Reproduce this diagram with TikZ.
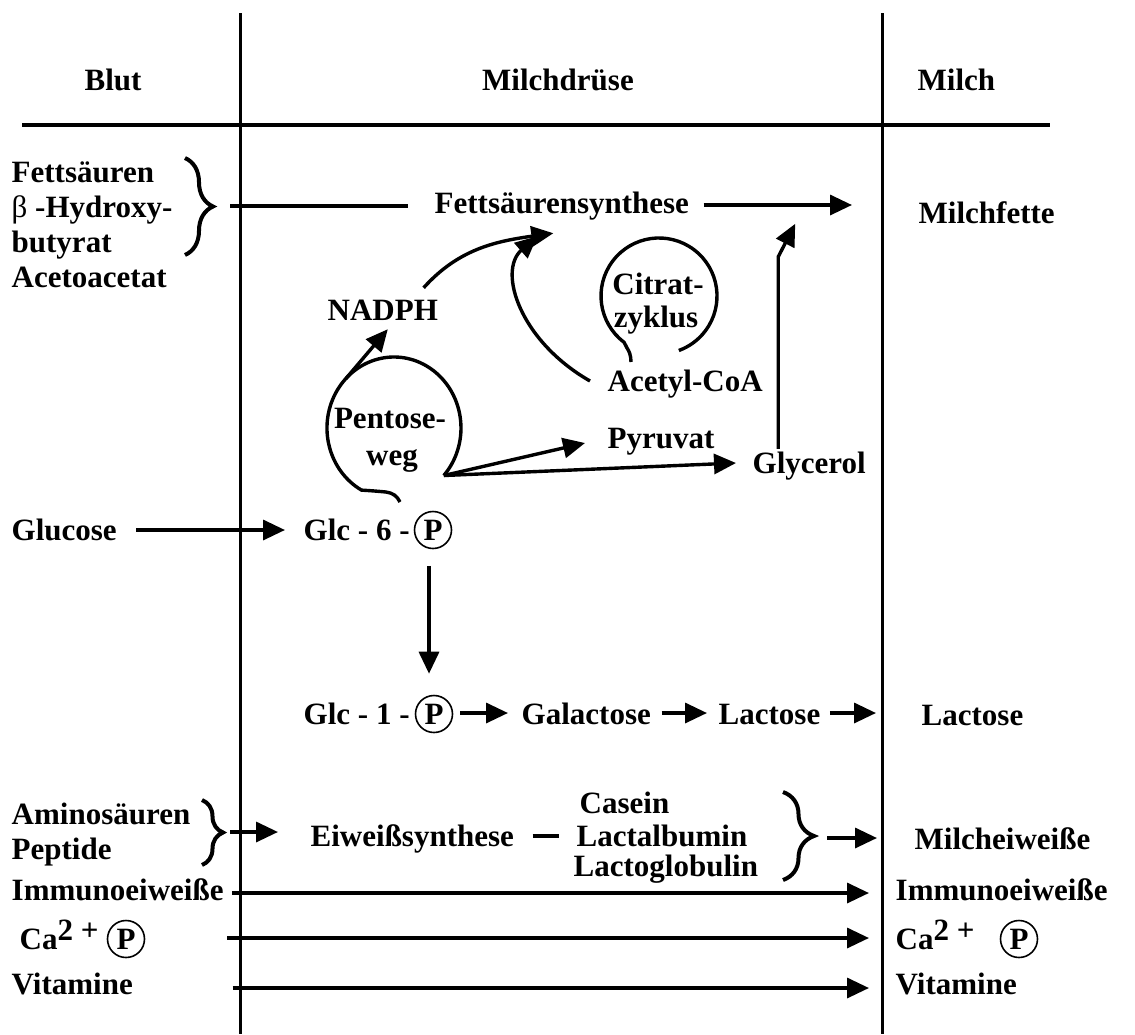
\documentclass[tikz,border=0pt]{standalone}
\usepackage{fontspec}
\setmainfont{Liberation Serif}
\usetikzlibrary{arrows.meta,decorations.pathreplacing}

\begin{document}
\begin{tikzpicture}[x=0.5pt, y=-0.5pt, line width=1.7pt,
  txt/.style={font=\fontsize{15.5}{18}\selectfont\bfseries, inner sep=0pt, text height=10.5pt, text depth=0pt},
  lbl/.style={txt, anchor=west},
  pc/.style={txt, circle, draw, line width=0.8pt, minimum size=18.5pt},
  arr/.style={-{Triangle[length=11pt,width=10pt]}},
  brc/.style={decorate, decoration={brace, amplitude=#1}, line width=2pt}]
	\useasboundingbox (0,0) rectangle (1135,1034);
	\coordinate (l1t) at (240,13); \coordinate (l1b) at (240,1034);
	\coordinate (l2t) at (882,13); \coordinate (l2b) at (882,1034);
	\coordinate (rl) at (22,125); \coordinate (rr) at (1050,125);
	\draw[line width=1.5pt] (l1t) -- (l1b);
	\draw[line width=1.5pt] (l2t) -- (l2b);
	\draw[line width=2pt] (rl) -- (rr);
	\node[txt] (blut) at (113,80) {Blut};
	\node[txt] (druese) at (558,80) {Milchdrüse};
	\node[lbl] (milch) at (916,80) {Milch};
	\node[lbl] (fsL) at (10,172) {Fettsäuren};
	\node[lbl] (hbL) at (10,207) {{\mdseries β} -Hydroxy-};
	\node[lbl] (butL) at (10,242) {butyrat};
	\node[lbl] (acL) at (10,277) {Acetoacetat};
	\coordinate (fb1) at (185,158); \coordinate (fb2) at (185,255); \coordinate (fbt) at (213,206);
	\draw[brc=14pt] (fb1) -- (fb2);
	\node[lbl] (fs) at (433,203) {Fettsäurensynthese};
	\node[lbl] (fette) at (917,213) {Milchfette};
	\draw (fbt) ++(17,0) -- ([shift={(-25,3)}]fs.west);
	\draw[arr] ([shift={(13,2)}]fs.east) -- ([shift={(-65,-8)}]fette.west);
	\node[lbl] (nadph) at (326,310) {NADPH};
	\node[txt] (citrat) at (658,284) {Citrat-};
	\node[txt] (zyklus) at (656,317) {zyklus};
	\node[lbl] (acetyl) at (606,381) {Acetyl-CoA};
	\node[txt] (pentose) at (390,418) {Pentose-};
	\node[txt] (weg) at (392,455) {weg};
	\node[lbl] (pyruvat) at (606,438) {Pyruvat};
	\node[lbl] (glycerol) at (751,463) {Glycerol};
	\coordinate (pentc) at (394,428);
	\draw (400,502) .. controls (397,496) and (393,493) .. (386,492) .. controls (375,491) .. (361.5,490.1)
	  arc[start angle=119, end angle=402, x radius=67, y radius=71];
	\draw (631,362) .. controls (631,355) and (629,351) .. (627,348) .. controls (625,345) .. (624.1,342.3)
	  arc[start angle=127, end angle=430, radius=58];
	\path (pentc) ++(42:67 and 71) coordinate (pentout);
	\path (pentc) ++(224:67 and 71) coordinate (pentnw);
	\draw[arr] (pentnw) -- ([shift={(5,7)}]nadph.south);
	\draw[arr] (pentout) -- ([shift={(-21,5)}]pyruvat.west);
	\draw[arr] (pentout) -- ([shift={(-15,0)}]glycerol.west);
	\draw[arr] ([shift={(-16,-10)}]nadph.north east) .. controls +(35,-39) and +(-57,8) .. ([shift={(-8.5,18)}]fs.south);
	\draw[arr] ([shift={(-16,0)}]acetyl.west) .. controls +(-70,-40) and +(-40,35) .. ([shift={(-24.5,21)}]fs.south);
	\draw[arr] ([shift={(-31,-2)}]glycerol.north) -- ++(0,-192) -- ++(17,-33);
	\node[lbl] (glucose) at (10,530) {Glucose};
	\node[lbl] (glc6) at (302,530) {Glc - 6 -};
	\node[pc] (p6) at (433,530) {P};
	\draw[arr] ([shift={(18,0)}]glucose.east) -- ([shift={(-17,0)}]glc6.west);
	\node[lbl] (glc1) at (302,714) {Glc - 1 -};
	\node[pc] (p1) at (434,714) {P};
	\draw[arr] ([shift={(-4,16.5)}]p6.south) -- ([shift={(-5,-21)}]p1.north);
	\node[lbl] (galac) at (520,714) {Galactose};
	\node[lbl] (lactM) at (717,714) {Lactose};
	\node[lbl] (lactR) at (920,715) {Lactose};
	\draw[arr] ([shift={(7,-1)}]p1.east) -- ([shift={(-12,-1)}]galac.west);
	\draw[arr] ([shift={(9,-1)}]galac.east) -- ([shift={(-10,-1)}]lactM.west);
	\draw[arr] ([shift={(8,-1)}]lactM.east) -- ([shift={(-44,-2)}]lactR.west);
	\node[lbl] (amino) at (10,814) {Aminosäuren};
	\node[lbl] (pept) at (10,849) {Peptide};
	\coordinate (ab1) at (202,800); \coordinate (ab2) at (202,865); \coordinate (abt) at (223,832);
	\draw[brc=10.5pt] (ab1) -- (ab2);
	\node[lbl] (eiw) at (309,836) {Eiweißsynthese};
	\draw[arr] (abt) ++(7,0) -- ([shift={(-31,-4)}]eiw.west);
	\node[lbl] (casein) at (578,803) {Casein};
	\node[lbl] (lalb) at (575,836) {Lactalbumin};
	\node[lbl] (lglob) at (572,866) {Lactoglobulin};
	\draw ([shift={(17,0)}]eiw.east) -- ([shift={(-16,0)}]lalb.west);
	\coordinate (pb1) at (783,792); \coordinate (pb2) at (783,880); \coordinate (pbt) at (814,836);
	\draw[brc=15.5pt] (pb1) -- (pb2);
	\node[lbl] (milchew) at (913,839) {Milcheiweiße};
	\draw[arr] (pbt) ++(13,2) -- ([shift={(-36,-1)}]milchew.west);
	\node[lbl] (immL) at (10,890) {Immunoeiweiße};
	\node[lbl] (immR) at (894,890) {Immunoeiweiße};
	\draw[arr] ([shift={(7,3)}]immL.east) -- ([shift={(-25,3)}]immR.west);
	\node[lbl] (caL) at (18,939) {Ca\raisebox{4.5pt}{2 +}};
	\node[pc] (pcaL) at (126,939) {P};
	\node[lbl] (caR) at (894,939) {Ca\raisebox{4.5pt}{2 +}};
	\node[pc] (pcaR) at (1019,939) {P};
	\draw[arr] ([shift={(82,-1)}]pcaL.east) -- ([shift={(-25,-1)}]caR.west);
	\node[lbl] (vitL) at (10,984) {Vitamine};
	\node[lbl] (vitR) at (894,984) {Vitamine};
	\draw[arr] ([shift={(98,4)}]vitL.east) -- ([shift={(-25,4)}]vitR.west);
\end{tikzpicture}
\end{document}
